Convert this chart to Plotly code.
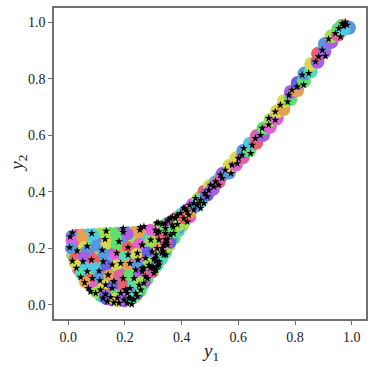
import plotly.graph_objects as go

palette = ["#e8606a", "#e8a050", "#d8d850", "#a0e050", "#60e070", "#50e0b0",
           "#50c8e0", "#5898e0", "#6a60e0", "#a860e0", "#e060d8", "#e060a0"]

edge_x = [.012,.03,.05,.07,.09,.11,.13,.15,.17,.19,.21,.23,.25,.27,.29,.31,.33,.35,.37,.39,
          .012,.015,.022,.037,.052,.07,.09,.115,.135,.155,.175,.197,.22,.24,.255,.264,.28,.30,.315,.33,.345,.358,.375,.39,.405,.42]
edge_y = [.244,.248,.249,.25,.251,.252,.253,.254,.255,.256,.257,.258,.26,.262,.266,.272,.28,.291,.302,.313,
          .2,.175,.15,.125,.1,.075,.052,.03,.02,.015,.012,.012,.018,.03,.048,.068,.09,.115,.14,.16,.185,.21,.235,.26,.28,.305]
edge_c = [10,11,1,6,6,3,3,4,4,9,7,1,1,10,10,3,4,4,1,0,
          7,7,2,3,2,1,3,4,8,9,2,9,5,3,4,5,4,3,4,5,4,3,4,5,3,4]

under_x = [.03,.07,.11,.15,.19,.23,.27,.31,
           .03,.08,.115,.15,.19,.23,.265,.305,.34,
           .015,.045,.08,.11,.15,.19,.225,.265,.30,.335,.365,
           .035,.075,.115,.155,.195,.23,.27,.295,.315,.36,
           .055,.09,.13,.17,.205,.245,.27,.31,
           .085,.11,.145,.18,.215,.25,.27,
           .115,.15,.185,.22,.245,
           .32,.36,.39,.41,.43,.39]
under_y = [.225,.225,.23,.23,.23,.235,.24,.25,
           .185,.18,.19,.195,.19,.195,.205,.215,.235,
           .175,.15,.145,.15,.155,.155,.16,.165,.175,.195,.235,
           .125,.115,.12,.12,.12,.125,.13,.14,.155,.22,
           .1,.08,.085,.09,.09,.09,.095,.135,
           .06,.05,.05,.05,.05,.06,.08,
           .03,.025,.025,.025,.04,
           .26,.26,.29,.32,.31,.27]
under_c = [11,5,9,1,7,3,6,2,
           5,11,3,9,1,8,6,4,10,
           3,7,10,4,6,0,9,11,5,2,7,
           10,3,9,5,7,2,6,1,4,8,
           2,6,11,4,3,10,8,5,
           7,4,0,10,3,6,9,
           5,11,1,3,8,
           2,6,9,5,10,7]

blob_x = [.013,.012,.05,.09,.13,.17,.21,.25,.295,.34,.37,
          .01,.055,.065,.1,.135,.17,.21,.25,.29,.33,
          .025,.055,.09,.125,.165,.2,.24,.28,.32,.345,
          .03,.06,.095,.135,.17,.21,.245,.285,.315,.335,
          .045,.075,.11,.145,.18,.215,.25,.285,.295,
          .06,.09,.125,.16,.195,.23,.255,.295,
          .1,.13,.165,.2,.235,.255,
          .13,.165,.195,.225]
blob_y = [.243,.228,.238,.245,.25,.245,.25,.258,.262,.27,.295,
          .2,.205,.19,.21,.215,.215,.205,.215,.225,.24,
          .165,.17,.16,.18,.175,.17,.18,.185,.2,.22,
          .14,.13,.13,.14,.14,.14,.14,.15,.16,.175,
          .11,.09,.1,.105,.105,.105,.11,.115,.125,
          .08,.06,.07,.07,.07,.07,.08,.115,
          .045,.035,.035,.03,.04,.055,
          .025,.02,.02,.022]
blob_c = [7,10,1,6,3,4,9,1,10,4,1,
          7,2,7,7,2,4,0,10,3,0,
          0,9,0,7,10,5,2,8,1,11,
          2,6,6,8,2,1,7,3,9,5,
          5,0,7,1,11,4,9,0,6,
          1,10,2,8,0,5,3,11,
          3,9,4,6,7,4,
          8,2,9,5]

mid_x = [.36,.38,.37,.40,.39,.42,.41,.44,.43,.46,.45,.48,.47,.50,.49,.52,.51,.54,.53]
mid_y = [.29,.305,.26,.32,.285,.335,.31,.355,.33,.375,.35,.40,.37,.42,.39,.435,.41,.455,.435]
mid_c = [9,11,4,5,3,8,0,10,1,3,7,0,5,2,8,6,9,4,11]

band_x = [.545,.567,.569,.591,.593,.615,.617,.639,.641,.663,.665,.687,.689,.711,.713,.735,.737,.759,.761,.783,
          .785,.807,.809,.831,.833,.855,.857,.879,.881,.903,.905,.927,.929,.951,.953,.965,.978,.99,.97]
band_y = [.464,.468,.492,.496,.519,.522,.544,.547,.57,.573,.597,.601,.625,.63,.654,.659,.685,.693,.72,.727,
          .753,.759,.785,.792,.818,.825,.852,.86,.888,.895,.923,.93,.95,.955,.975,.987,.985,.98,.975]
band_c = [9,7,2,10,2,11,7,4,6,0,11,9,4,10,3,10,2,1,2,4,
          9,1,8,4,7,5,2,9,0,9,7,9,3,11,4,4,1,7,6]

star_x = [.015,.007,.083,.134,.13,.194,.194,.255,.253,.179,.067,.005,.12,.032,.211,.171,.211,.261,
          .015,.082,.052,.123,.155,.185,.218,.246,.029,.067,.109,.141,.194,.238,.261,.044,.085,.112,.058,.161,.071,
          .079,.155,.132,.114,.097,.132,.123,.15,.138,.161,.185,.203,.173,.197,.214,.209,.179,.218,
          .232,.202,.261,.302,.273,.25,.267,.256,.238,.22,.232,.244,.208,.224,
          .267,.317,.331,.343,.308,.32,.343,.314,.331,.343,.296,.31,.33,.273,.302,.31,.285,.32,.261,.244,.291,.314,.315,.267,.296,.30,.31,
          .312,.343,.367,.384,.32,.343,.367,.37,.349,.36,.372,.35,.337,.345,.414,.425,.408,.443,.455,.467,.478,.42,.385,.345,.337,.308,.335,.32,.29,.302,.279,
          .353,.361,.378,.396,.408,.42,.428,.443,.449,.467,.461,.482,.496,.49,.514,.52,.531,.543,.502,
          .537,.554,.574,.578,.596,.601,.613,.619,.643,.649,.66,.678,.684,.707,.73,.707,.73,.748,.774,.778,.789,.807,.83,.825,.848,.872,.883,.907,.896,.918,.942,.96,.954,.966,.983,.977,.971]
star_y = [.255,.241,.253,.261,.232,.271,.257,.274,.265,.224,.208,.203,.194,.191,.203,.183,.177,.212,
          .155,.159,.153,.153,.142,.147,.147,.159,.13,.118,.12,.106,.094,.124,.13,.098,.094,.086,.079,.083,.059,
          .047,.059,.071,.053,.041,.038,.024,.027,.012,.008,.041,.053,.024,.018,.024,.041,.006,.059,
          .094,.053,.118,.13,.1,.07,.077,.053,.041,.024,.018,.03,.006,.002,
          .277,.291,.286,.271,.265,.23,.232,.2,.2,.218,.188,.177,.183,.165,.161,.155,.141,.153,.212,.183,.23,.253,.136,.13,.135,.13,.124,
          .289,.289,.31,.318,.259,.253,.283,.275,.23,.247,.253,.212,.212,.218,.336,.318,.306,.336,.353,.342,.359,.294,.285,.177,.177,.165,.19,.141,.13,.112,.094,
          .3,.305,.306,.324,.342,.33,.353,.359,.377,.371,.359,.395,.406,.383,.418,.436,.424,.448,.424,
          .46,.477,.465,.495,.5,.518,.53,.554,.536,.565,.589,.6,.625,.637,.654,.66,.683,.707,.718,.742,.76,.772,.778,.813,.819,.86,.878,.88,.901,.94,.96,.948,.978,.995,.99,1.0,.986]

tick_vals = [0.0, 0.2, 0.4, 0.6, 0.8, 1.0]
tick_text = ["0.0", "0.2", "0.4", "0.6", "0.8", "1.0"]
SERIF = "Liberation Serif"

left_x = edge_x + under_x + blob_x
left_y = edge_y + under_y + blob_y
left_c = edge_c + under_c + blob_c
line_x = mid_x + band_x
line_y = mid_y + band_y
line_c = mid_c + band_c

fig = go.Figure()
fig.add_trace(go.Scatter(x=left_x, y=left_y, mode="markers", hoverinfo="skip",
                         marker=dict(size=12, color=[palette[c] for c in left_c], line=dict(width=0))))
fig.add_trace(go.Scatter(x=line_x, y=line_y, mode="markers", hoverinfo="skip",
                         marker=dict(size=14, color=[palette[c] for c in line_c], line=dict(width=0))))
fig.add_trace(go.Scatter(x=star_x, y=star_y, mode="markers", hoverinfo="skip",
                         marker=dict(size=6, color="black", symbol="star", line=dict(width=0))))

def axis():
    return dict(range=[-0.05, 1.05], tickmode="array", tickvals=tick_vals, ticktext=tick_text,
                showgrid=False, zeroline=False, showline=True, mirror=True, linecolor="#707070",
                linewidth=1.5, ticks="outside", ticklen=4, tickwidth=1, tickcolor="#707070",
                automargin=False, tickfont=dict(family=SERIF, size=14, color="#222222"))

fig.update_layout(
    template="none",
    font=dict(family=SERIF, size=14, color="#222222"),
    width=374, height=367, showlegend=False, paper_bgcolor="white", plot_bgcolor="white",
    margin=dict(l=53.5, r=7.5, t=8, b=47.5),
    xaxis=axis(), yaxis=axis(),
    annotations=[
        dict(text="<i>y</i><sub>1</sub>", xref="paper", yref="paper", x=0.5, y=-0.06, yanchor="top",
             showarrow=False, font=dict(family=SERIF, size=19, color="#222222")),
        dict(text="<i>y</i><sub>2</sub>", xref="paper", yref="paper", x=-0.118, y=0.5, xanchor="center",
             textangle=-90, showarrow=False, font=dict(family=SERIF, size=19, color="#222222")),
    ],
)
fig.write_html("out.html", config=dict(displayModeBar=False),
               post_script="document.body.style.margin='0';document.documentElement.style.overflow='hidden';")
